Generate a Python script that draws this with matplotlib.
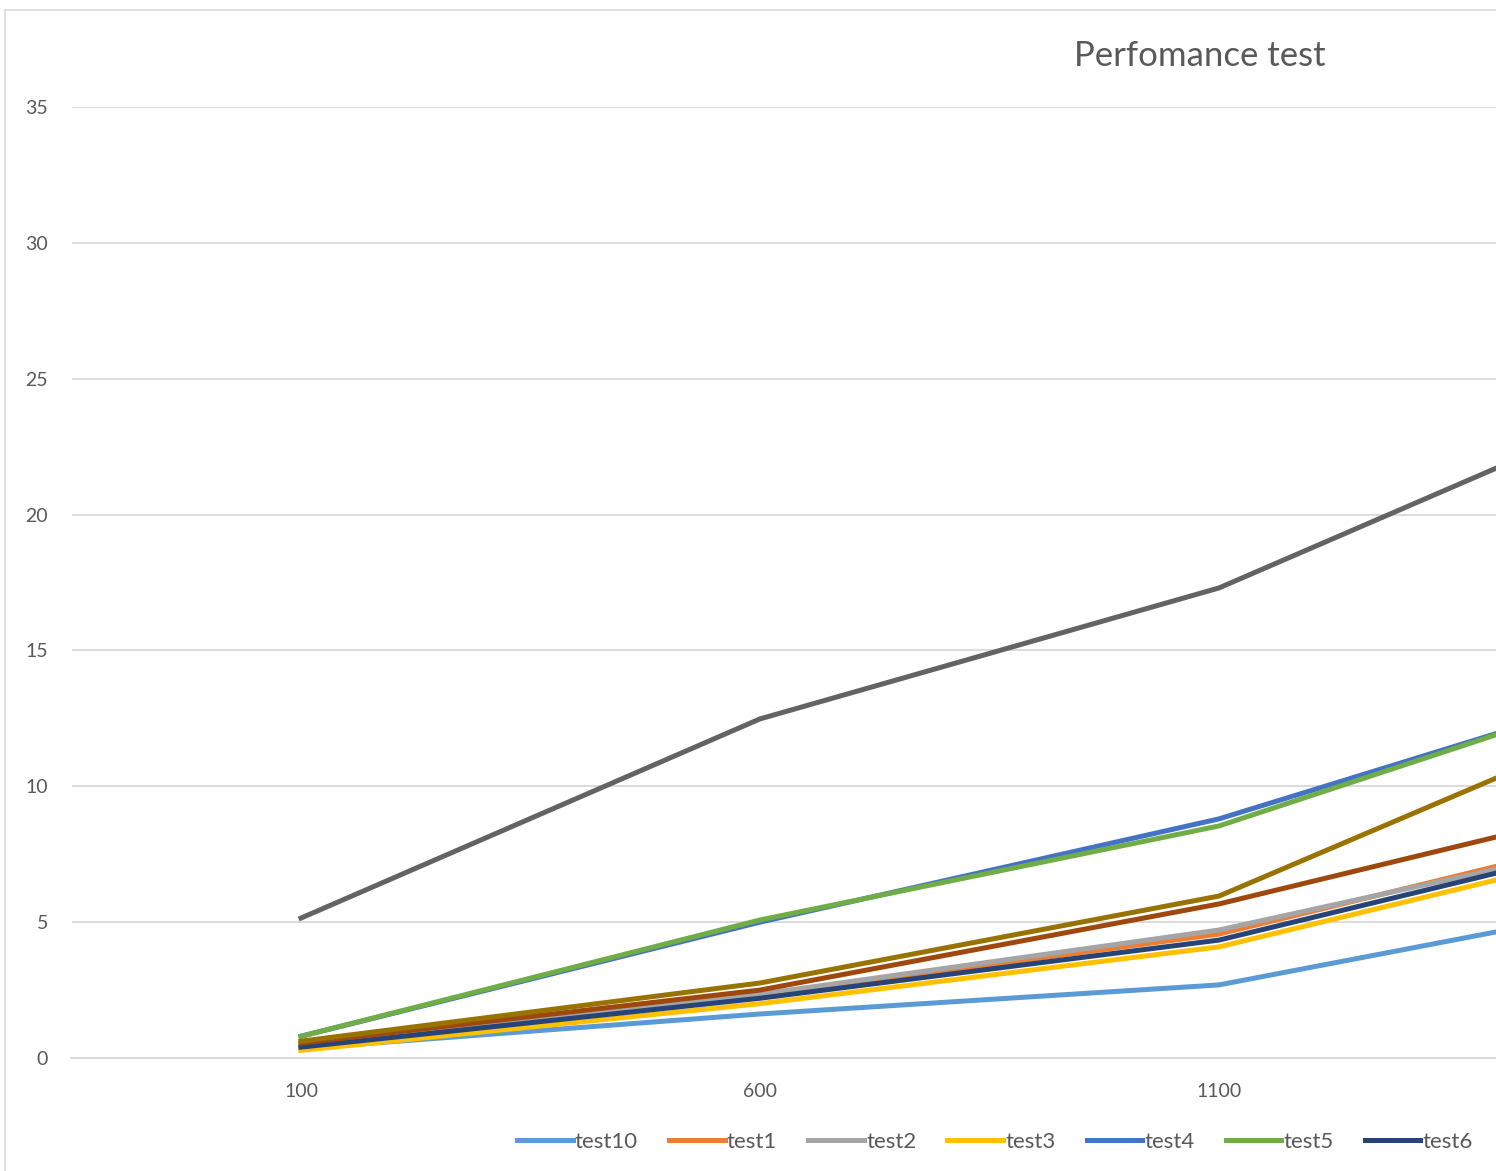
import numpy as np
import matplotlib.pyplot as plt
from matplotlib.patches import Rectangle

plt.rcParams['font.family'] = ['Lato', 'DejaVu Sans']

# data (last point is off the cropped edge)
categories = ['100', '600', '1100', '1600']
names = ['test10', 'test1', 'test2', 'test3', 'test4',
         'test5', 'test6', 'test7', 'test8', 'test9']
test10 = [0.35, 1.62, 2.69, 5.92]
test1 = [0.45, 2.30, 4.56, 8.69]
test2 = [0.45, 2.35, 4.71, 8.42]
test3 = [0.28, 2.00, 4.09, 8.17]
test4 = [0.80, 5.00, 8.80, 14.0]
test5 = [0.80, 5.08, 8.54, 14.1]
test6 = [0.40, 2.20, 4.34, 8.42]
test7 = [0.55, 2.50, 5.67, 9.75]
test8 = [5.15, 12.48, 17.30, 24.6]
test9 = [0.62, 2.76, 5.96, 13.15]
series = [test10, test1, test2, test3, test4, test5, test6, test7, test8, test9]
colors = ['#5B9BD5', '#ED7D31', '#A5A5A5', '#FFC000', '#4472C4',
          '#70AD47', '#264478', '#9E480E', '#636363', '#997300']

W, H = 1496, 1171
fig = plt.figure(figsize=(W / 100, H / 100), dpi=100)

# chart border (cropped on right / bottom)
fig.patches.append(Rectangle((5 / W, -0.1), 1.2, 1.1 - 10 / H, transform=fig.transFigure,
                             fill=False, edgecolor='#D9D9D9', lw=1.2))

left = 71.5 / W
ax = fig.add_axes([left, 1 - 1058 / H, 1 - left, (1058 - 107) / H])

x = np.arange(len(categories))
lines = []
for vals, c, n in zip(series, colors, names):
    ln, = ax.plot(x, vals, color=c, lw=3.6, label=n, solid_joinstyle='round')
    lines.append(ln)

ax.set_ylim(0, 35)
ax.set_yticks(np.arange(0, 36, 5))
ax.set_xticks(x)
ax.set_xticklabels(categories)
ax.set_xlim(-0.5, -0.5 + (W - 71.5) / 459)
ax.grid(axis='y', color='#D9D9D9', lw=1.3)
ax.set_axisbelow(True)
for s in ['top', 'right', 'left']:
    ax.spines[s].set_visible(False)
ax.spines['bottom'].set_color('#D9D9D9')
ax.spines['bottom'].set_linewidth(1.3)
ax.tick_params(length=0, labelsize=14, colors='#595959')
ax.tick_params(axis='y', pad=17)
ax.tick_params(axis='x', pad=18)

fig.text(1200 / W, 1 - 56 / H, 'Perfomance test', ha='center', va='center',
         fontsize=25, color='#595959')

# only the entries visible in the cropped chart
fig.legend(lines[:7], names[:7], loc='center left',
           bbox_to_anchor=(506 / W, 1 - 1142 / H), ncol=7,
           frameon=False, fontsize=16, handlelength=2.5, handletextpad=0.1,
           columnspacing=1.4, borderpad=0, labelcolor='#595959')

fig.savefig('out.png', dpi=100)
